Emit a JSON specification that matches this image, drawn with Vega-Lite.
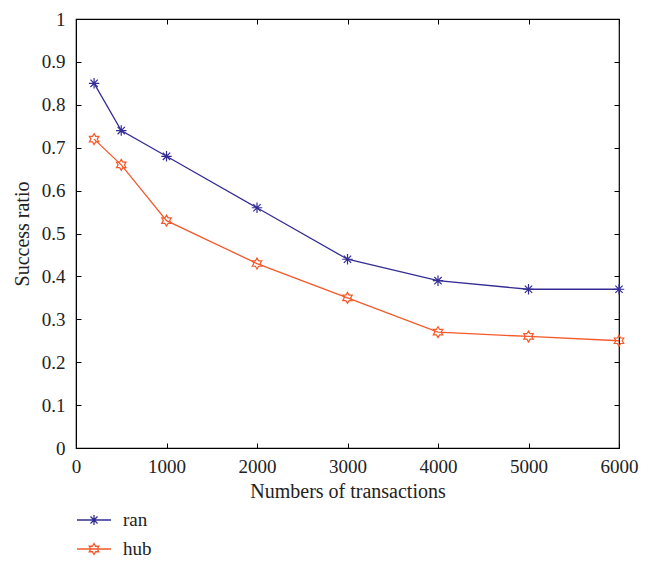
{
  "$schema": "https://vega.github.io/schema/vega-lite/v6.json",
  "width": 543,
  "height": 429,
  "autosize": {"type": "none"},
  "padding": {"left": 76, "top": 19, "right": 27, "bottom": 122},
  "background": "white",
  "config": {
    "font": "Liberation Serif",
    "view": {"stroke": "#000", "strokeWidth": 1.2},
    "axis": {
      "grid": false,
      "domainColor": "#000",
      "tickColor": "#000",
      "labelColor": "#222",
      "titleColor": "#222",
      "labelFont": "Liberation Serif",
      "titleFont": "Liberation Serif",
      "labelFontSize": 19,
      "titleFontSize": 20,
      "titleFontWeight": "normal",
      "labelFlush": false,
      "tickSize": -5
    }
  },
  "data": {
    "values": [
      {"n": 200, "r": 0.85, "s": "ran"},
      {"n": 500, "r": 0.74, "s": "ran"},
      {"n": 1000, "r": 0.68, "s": "ran"},
      {"n": 2000, "r": 0.56, "s": "ran"},
      {"n": 3000, "r": 0.44, "s": "ran"},
      {"n": 4000, "r": 0.39, "s": "ran"},
      {"n": 5000, "r": 0.37, "s": "ran"},
      {"n": 6000, "r": 0.37, "s": "ran"},
      {"n": 200, "r": 0.72, "s": "hub"},
      {"n": 500, "r": 0.66, "s": "hub"},
      {"n": 1000, "r": 0.53, "s": "hub"},
      {"n": 2000, "r": 0.43, "s": "hub"},
      {"n": 3000, "r": 0.35, "s": "hub"},
      {"n": 4000, "r": 0.27, "s": "hub"},
      {"n": 5000, "r": 0.26, "s": "hub"},
      {"n": 6000, "r": 0.25, "s": "hub"}
    ]
  },
  "layer": [
    {
      "mark": {"type": "line", "strokeWidth": 1.3},
      "encoding": {
        "x": {"field": "n", "type": "quantitative", "scale": {"domain": [0, 6000], "nice": false},
          "axis": {"title": "Numbers of transactions", "values": [0,1000,2000,3000,4000,5000,6000], "format": "d", "labelPadding": 14, "titlePadding": 5}},
        "y": {"field": "r", "type": "quantitative", "scale": {"domain": [0, 1], "nice": false},
          "axis": {"title": "Success ratio", "values": [0,0.1,0.2,0.3,0.4,0.5,0.6,0.7,0.8,0.9,1], "format": "~g", "labelPadding": 16, "titlePadding": 9}},
        "color": {"field": "s", "type": "nominal", "sort": ["ran", "hub"],
          "scale": {"domain": ["ran", "hub"], "range": ["#342d96", "#f4592a"]},
          "legend": {
            "title": null,
            "orient": "none",
            "legendX": 7,
            "legendY": 490,
            "symbolSize": 400,
            "symbolStrokeWidth": 1.3,
            "symbolFillColor": "transparent",
            "labelFont": "Liberation Serif",
            "labelFontSize": 19,
            "labelColor": "#222",
            "labelOffset": 18,
            "rowPadding": 8,
            "encode": {
              "symbols": {
                "update": {
                  "shape": {"signal": "datum.value === 'ran' ? 'M-1.7,0L1.7,0M-0.5,0L0.5,0M0,-0.5L0,0.5M-0.35,-0.35L0.35,0.35M-0.35,0.35L0.35,-0.35' : 'M-1.7,0L1.7,0M0,-0.55L0.159,-0.275L0.476,-0.275L0.317,0L0.476,0.275L0.159,0.275L0,0.55L-0.159,0.275L-0.476,0.275L-0.317,0L-0.476,-0.275L-0.159,-0.275Z'"},
                  "fill": {"value": "transparent"}
                }
              }
            }
          }}
      }
    },
    {
      "transform": [{"filter": "datum.s === 'ran'"}],
      "mark": {"type": "point", "filled": false, "strokeWidth": 1.2, "opacity": 1, "size": 110,
        "shape": "M-1,0L1,0M0,-1L0,1M-0.7,-0.7L0.7,0.7M-0.7,0.7L0.7,-0.7"},
      "encoding": {
        "x": {"field": "n", "type": "quantitative", "axis": null},
        "y": {"field": "r", "type": "quantitative", "axis": null},
        "color": {"field": "s", "type": "nominal", "legend": null}
      }
    },
    {
      "transform": [{"filter": "datum.s === 'hub'"}],
      "mark": {"type": "point", "filled": false, "strokeWidth": 1.2, "opacity": 1, "size": 120,
        "shape": "M0,-1L0.289,-0.5L0.866,-0.5L0.577,0L0.866,0.5L0.289,0.5L0,1L-0.289,0.5L-0.866,0.5L-0.577,0L-0.866,-0.5L-0.289,-0.5Z"},
      "encoding": {
        "x": {"field": "n", "type": "quantitative", "axis": null},
        "y": {"field": "r", "type": "quantitative", "axis": null},
        "color": {"field": "s", "type": "nominal", "legend": null}
      }
    },
    {
      "mark": {"type": "rule", "opacity": 0},
      "encoding": {
        "x": {"field": "n", "type": "quantitative", "axis": {"orient": "top", "labels": false, "title": null, "domain": false, "values": [0,1000,2000,3000,4000,5000,6000]}},
        "y": {"field": "r", "type": "quantitative", "axis": {"orient": "right", "labels": false, "title": null, "domain": false, "values": [0,0.1,0.2,0.3,0.4,0.5,0.6,0.7,0.8,0.9,1]}}
      }
    }
  ],
  "resolve": {"axis": {"x": "independent", "y": "independent"}}
}
